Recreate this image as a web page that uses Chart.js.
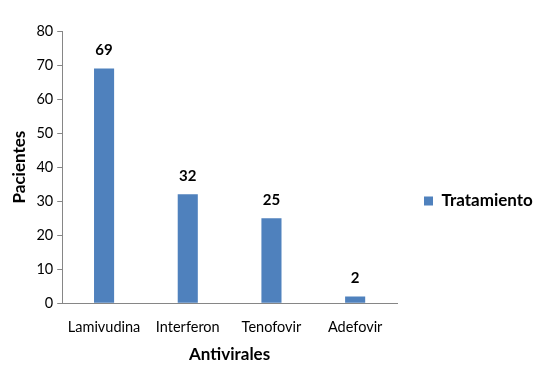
<!DOCTYPE html>
<html><head><meta charset="utf-8">
<script src="https://cdn.jsdelivr.net/npm/chart.js@4/dist/chart.umd.min.js"></script>
<style>html,body{margin:0;padding:0;background:#fff}#wrap{width:541px;height:369px}</style>
</head><body><div id="wrap"><canvas id="c"></canvas></div>
<script>
const categories = ["Lamivudina", "Interferon", "Tenofovir", "Adefovir"];
const tratamiento = [69, 32, 25, 2];
const seriesName = "Tratamiento";
const xTitle = "Antivirales";
const yTitle = "Pacientes";

const FONT = "Lato, 'Open Sans', sans-serif";

const labelPlugin = {
  id: 'barLabels',
  afterDatasetsDraw(chart) {
    const ctx = chart.ctx;
    const meta = chart.getDatasetMeta(0);
    ctx.save();
    ctx.font = "bold 15px " + FONT;
    ctx.fillStyle = "#000";
    ctx.textAlign = "center";
    ctx.textBaseline = "middle";
    meta.data.forEach((bar, i) => {
      ctx.fillText(String(chart.data.datasets[0].data[i]), bar.x, bar.y - 18);
    });
    ctx.restore();
  }
};

const legendWidthPlugin = {
  id: 'legendWidth',
  beforeInit(chart) {
    const orig = chart.legend.fit;
    chart.legend.fit = function() {
      orig.call(this);
      this.width = 144;
    };
  },
  afterLayout(chart) {
    chart.legend.top += 3;
    chart.legend.bottom += 3;
  }
};

new Chart(document.getElementById('c'), {
  type: 'bar',
  data: {
    labels: categories,
    datasets: [{
      label: seriesName,
      data: tratamiento,
      backgroundColor: '#4F81BD',
      borderWidth: 0,
      barPercentage: 0.48,
      categoryPercentage: 0.5
    }]
  },
  plugins: [labelPlugin, legendWidthPlugin],
  options: {
    responsive: true,
    maintainAspectRatio: false,
    animation: false,
    layout: { padding: { left: 5, top: 31, right: 0, bottom: 4 } },
    plugins: {
      tooltip: { enabled: false },
      legend: {
        position: 'right',
        align: 'center',
        labels: {
          boxWidth: 9, boxHeight: 9, padding: 27,
          color: '#000',
          font: { family: FONT, size: 17, weight: 'bold' }
        }
      }
    },
    scales: {
      x: {
        grid: { display: false },
        border: { display: true, color: '#868686', width: 1 },
        ticks: { color: '#000', font: { family: FONT, size: 14.5 }, padding: 7 },
        title: { display: true, text: xTitle, color: '#000', font: { family: FONT, size: 17, weight: 'bold' }, padding: { top: 2, bottom: 0 } }
      },
      y: {
        min: 0, max: 80,
        ticks: { stepSize: 10, color: '#000', font: { family: FONT, size: 14.5 }, padding: 4 },
        grid: { drawOnChartArea: false, drawTicks: true, tickLength: 5, color: '#868686' },
        border: { display: true, color: '#868686', width: 1 },
        title: { display: true, text: yTitle, color: '#000', font: { family: FONT, size: 17, weight: 'bold' }, padding: { bottom: 3 } }
      }
    }
  }
});
</script></body></html>
